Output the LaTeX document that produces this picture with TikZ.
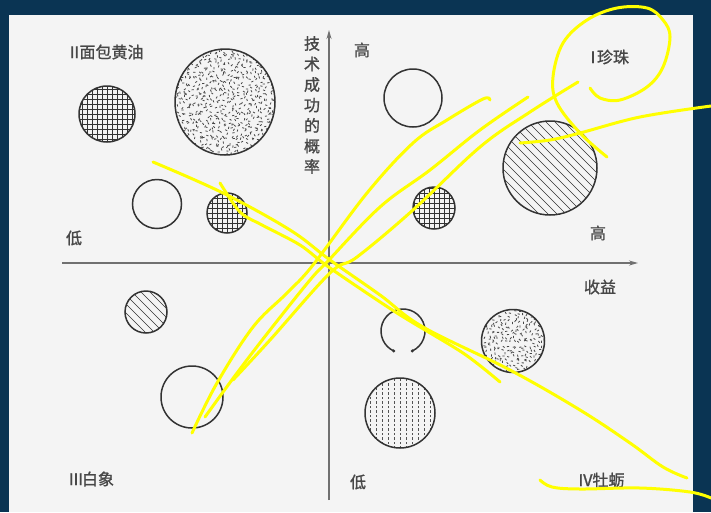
\documentclass[tikz,border=0pt]{standalone}
\usepackage{fontspec}
\newfontfamily\cjk{Noto Sans CJK SC}[FakeBold=1.2]
\usetikzlibrary{arrows.meta,shapes.geometric}
\definecolor{navy}{HTML}{0A3453}
\definecolor{paper}{HTML}{F4F4F4}
\definecolor{ink}{HTML}{333333}
\definecolor{hl}{HTML}{FFFF00}
\begin{document}
\begin{tikzpicture}[x=1pt,y=-1pt,
  lbl/.style={font=\cjk\fontsize{16}{16}\selectfont, text=ink!90, inner sep=0pt},
  ring/.style={circle, draw=ink, line width=1.5pt, inner sep=0pt, minimum size=#1},
  axisline/.style={draw=ink!70, line width=1.4pt, -{Stealth[length=9pt,width=5pt]}},
  gridfill/.style={path picture={
     \foreach \i in {-60,-55,...,60}{
       \draw[ink, line width=0.55pt] ([shift={(\i pt,-60pt)}]path picture bounding box.center) -- ++(0pt,120pt);
       \draw[ink, line width=0.55pt] ([shift={(-60pt,\i pt)}]path picture bounding box.center) -- ++(120pt,0pt);
     }}},
  hatchfill/.style={path picture={
     \foreach \i in {-120,-111,...,120}{
       \draw[ink, line width=0.6pt] ([shift={(\i pt - 60pt,60pt)}]path picture bounding box.center) -- ++(120pt,-120pt);
     }}},
  vfill/.style={path picture={
     \foreach \i in {-36,-30,...,36}{
       \draw[ink!85, line width=0.9pt, dash pattern=on 2.5pt off 2pt] ([shift={(\i pt,-40pt)}]path picture bounding box.center) -- ++(0pt,80pt);
     }}},
  stipple/.style={path picture={
     \pgfmathsetseed{#1}
     \foreach \i in {-54,-50,...,54}{
       \foreach \j in {-54,-50,...,54}{
         \pgfmathsetmacro\dx{\i+2*rand}
         \pgfmathsetmacro\dy{\j+2*rand}
         \pgfmathsetmacro\ang{180*rnd}
         \draw[ink!90, line width=0.8pt] ([shift={(\dx pt,\dy pt)}]path picture bounding box.center) -- ++(\ang:2.2pt);
       }}}},
  hlstroke/.style={draw=hl, line width=3pt, line cap=round, line join=round}
]
\useasboundingbox (0,0) rectangle (711,512);
\fill[navy] (0,0) rectangle (711,512);
\fill[paper] (9,15) rectangle (693,512);

% axes
\coordinate (xa) at (62,263);
\coordinate (xb) at (638,263);
\coordinate (ya) at (329,500);
\coordinate (yb) at (329,30);
\draw[axisline] (xa) -- (xb);
\draw[axisline] (ya) -- (yb);

% circles
\node[ring=56pt, gridfill] (g1) at (107,114) {};
\node[ellipse, draw=ink, line width=1.5pt, minimum width=100pt, minimum height=106pt, inner sep=0pt, stipple=11] (s1) at (225,102) {};
\node[ring=49pt] (o1) at (157,204) {};
\node[ring=40pt, gridfill] (g2) at (227,213) {};
\node[ring=58pt] (o2) at (413,98) {};
\node[ring=42pt, gridfill] (g3) at (434,208) {};
\node[ring=94pt, hatchfill] (h1) at (550,168) {};
\node[ring=42pt, hatchfill] (h2) at (146,312) {};
\node[ring=62pt] (o3) at (192,397) {};
\coordinate (b1) at (403,331);
\draw[ink, line width=1.5pt] (b1) ++(-65:22pt) arc[start angle=-65, end angle=245, radius=22pt];
\fill[ink] (b1) ++(-65:22pt) circle (1.7pt);
\fill[ink] (b1) ++(245:22pt) circle (1.7pt);
\node[ring=63pt, stipple=5] (s2) at (513,341) {};
\node[ring=70pt, vfill] (v1) at (400,413) {};

% labels
\node[lbl] (q2) at (105,52) {Ⅱ\kern-3pt 面包黄油};
\node[lbl, align=center, font=\cjk\fontsize{16}{20.5}\selectfont] (yl) at (312,105) {技\\术\\成\\功\\的\\概\\率};
\node[lbl] (hi1) at (362,50) {高};
\node[lbl] (q1) at (607,57) {Ⅰ\kern-4pt 珍珠};
\node[lbl] (lo1) at (74,238) {低};
\node[lbl] (hi2) at (598,233) {高};
\node[lbl] (xl) at (600,287) {收益};
\node[lbl] (q3) at (91,479) {Ⅲ\kern-2pt 白象};
\node[lbl] (lo2) at (358,482) {低};
\node[lbl] (q4) at (601,480) {Ⅳ\kern-1pt 牡蛎};

% yellow freehand strokes
\draw[hlstroke] plot[smooth, tension=0.6] coordinates {(192,433) (217,383) (253,327) (287,293) (313,265) (367,193) (413,143) (447,120) (483,99) (490,100)};
\draw[hlstroke] plot[smooth, tension=0.6] coordinates {(205,417) (237,373) (270,330) (310,280) (327,262) (380,207) (430,170) (480,130) (528,97)};
\draw[hlstroke] plot[smooth, tension=0.6] coordinates {(233,380) (270,340) (330,273) (357,257) (413,210) (480,147) (530,112) (578,82)};
\draw[hlstroke] plot[smooth, tension=0.6] coordinates {(153,162) (223,193) (290,230) (330,260) (380,295) (423,327) (510,370) (580,410) (630,443) (663,467) (687,478)};
\draw[hlstroke] plot[smooth, tension=0.5] coordinates {(220,183) (240,212) (262,225) (300,245) (330,268) (397,313) (463,353) (500,382)};
\draw[hlstroke] plot[smooth, tension=0.6] coordinates {(607,157) (580,133) (557,103) (553,77) (563,43) (587,20) (617,8) (647,8) (663,20) (670,37) (663,67) (647,87) (620,100) (600,98) (590,88)};
\draw[hlstroke] plot[smooth, tension=0.6] coordinates {(520,143) (550,140) (580,133) (640,117) (711,106)};
\draw[hlstroke] plot[smooth, tension=0.6] coordinates {(540,480) (552,487) (580,489) (640,488) (690,492) (711,498)};
\end{tikzpicture}
\end{document}
